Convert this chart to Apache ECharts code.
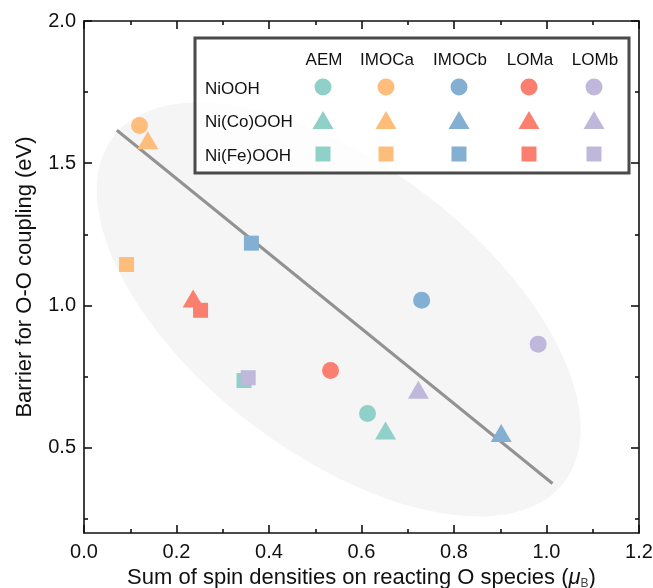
<!DOCTYPE html>
<html>
<head>
<meta charset="utf-8">
<title>Barrier vs spin density</title>
<script src="https://cdn.jsdelivr.net/npm/echarts@6/dist/echarts.min.js"></script>
<style>
  html, body { margin: 0; padding: 0; background: #fff; }
  #chart { width: 653px; height: 588px; }
</style>
</head>
<body>
<div id="chart"></div>
<script>
  // mechanisms (columns of the legend) and catalysts (rows)
  var mechanisms = ['AEM', 'IMOCa', 'IMOCb', 'LOMa', 'LOMb']
  var materials = ['NiOOH', 'Ni(Co)OOH', 'Ni(Fe)OOH']
  var colors = ['#8fd0c8', '#ffbd7b', '#82afd2', '#fa7f6f', '#bfb8db']
  var symbols = ['circle', 'triangle', 'rect']

  // spin density sum (x) and O-O coupling barrier (y), one value per mechanism
  var spinNiOOH = [0.613, 0.120, 0.730, 0.533, 0.982]
  var barrierNiOOH = [0.620, 1.633, 1.018, 0.771, 0.864]
  var spinNiCo = [0.652, 0.138, 0.902, 0.236, 0.723]
  var barrierNiCo = [0.560, 1.581, 0.552, 1.024, 0.704]
  var spinNiFe = [0.346, 0.092, 0.362, 0.252, 0.355]
  var barrierNiFe = [0.736, 1.144, 1.219, 0.983, 0.746]

  // linear fit ends
  var fitX = [0.071, 1.013]
  var fitY = [1.616, 0.374]

  var yMajor = [0.5, 1.0, 1.5, 2.0]
  var yMinor = [0.25, 0.75, 1.25, 1.75]

  var spins = [spinNiOOH, spinNiCo, spinNiFe]
  var barriers = [barrierNiOOH, barrierNiCo, barrierNiFe]

  var font = '"Liberation Sans", Arial, Helvetica, sans-serif'
  var symbolSizes = [17, [21, 18], 15]

  var chart = echarts.init(document.getElementById('chart'))

  var series = []
  // gray ellipse behind the points
  series.push({
    type: 'custom',
    z: 1,
    silent: true,
    data: [[0.551, 0.986]],
    renderItem: function (params, api) {
      var c = api.coord([api.value(0), api.value(1)])
      return {
        type: 'ellipse',
        x: c[0],
        y: c[1],
        rotation: -37.4 * Math.PI / 180,
        shape: { cx: 0, cy: 0, rx: 284, ry: 144 },
        style: { fill: '#f5f5f5' }
      }
    }
  })
  series.push({
    type: 'line',
    z: 2,
    silent: true,
    symbol: 'none',
    data: [[fitX[0], fitY[0]], [fitX[1], fitY[1]]],
    lineStyle: { color: '#929292', width: 3 }
  })
  materials.forEach(function (mat, r) {
    mechanisms.forEach(function (mech, c) {
      series.push({
        name: mat + ' ' + mech,
        type: 'scatter',
        z: 3,
        symbol: symbols[r],
        symbolSize: symbolSizes[r],
        itemStyle: { color: colors[c], opacity: 1 },
        data: [[spins[r][c], barriers[r][c]]]
      })
    })
  })

  // legend as a small table
  var colX = [323, 386, 459, 529, 594]
  var rowY = [87, 120, 154]
  var legend = [{
    type: 'rect', z: 100,
    shape: { x: 195, y: 38, width: 434, height: 135 },
    style: { fill: 'rgba(255,255,255,0.8)', stroke: '#4a4a4a', lineWidth: 3 }
  }]
  mechanisms.forEach(function (m, c) {
    legend.push({
      type: 'text', z: 101, x: colX[c] + 1, y: 60,
      style: { text: m, font: '17px ' + font, fill: '#111', align: 'center', verticalAlign: 'middle' }
    })
  })
  materials.forEach(function (mat, r) {
    legend.push({
      type: 'text', z: 101, x: 205, y: rowY[r] + 2,
      style: { text: mat, font: '17px ' + font, fill: '#111', align: 'left', verticalAlign: 'middle' }
    })
    colors.forEach(function (col, c) {
      if (r === 0) {
        legend.push({ type: 'circle', z: 101, shape: { cx: colX[c], cy: rowY[r], r: 8.5 }, style: { fill: col } })
      } else if (r === 1) {
        legend.push({ type: 'polygon', z: 101, shape: { points: [[colX[c], rowY[r] - 9], [colX[c] + 10.5, rowY[r] + 9], [colX[c] - 10.5, rowY[r] + 9]] }, style: { fill: col } })
      } else {
        legend.push({ type: 'rect', z: 101, shape: { x: colX[c] - 7.5, y: rowY[r] - 7.5, width: 15, height: 15 }, style: { fill: col } })
      }
    })
  })

  var lineStyle = { color: '#111', width: 1.6 }
  var tickMajor = { show: true, inside: true, length: 8, lineStyle: lineStyle }
  var tickMinor = { show: true, inside: true, length: 4, lineStyle: lineStyle }

  chart.setOption({
    animation: false,
    textStyle: { fontFamily: font },
    grid: { left: 84, right: 14, top: 21, bottom: 55, containLabel: false, outerBoundsMode: 'none' },
    xAxis: [
      {
        type: 'value', min: 0, max: 1.2, interval: 0.2, position: 'bottom',
        axisLine: { lineStyle: lineStyle },
        axisTick: tickMajor,
        minorTick: { show: true, splitNumber: 2, length: 4, lineStyle: lineStyle },
        splitLine: { show: false },
        axisLabel: { fontSize: 20, color: '#111', margin: 9, formatter: function (v) { return v.toFixed(1) } },
        name: 'Sum of spin densities on reacting O species ({mu|μ}{sub|B})',
        nameLocation: 'middle',
        nameGap: 30,
        nameTextStyle: {
          fontSize: 22, color: '#111',
          rich: {
            mu: { fontSize: 22, fontStyle: 'italic', color: '#111' },
            sub: { fontSize: 12, color: '#444', padding: [12, 0, 0, 0] }
          }
        }
      },
      {
        type: 'value', min: 0, max: 1.2, interval: 0.2, position: 'top',
        axisLine: { lineStyle: lineStyle },
        axisTick: tickMajor,
        minorTick: { show: true, splitNumber: 2, length: 4, lineStyle: lineStyle },
        splitLine: { show: false },
        axisLabel: { show: false }
      }
    ],
    yAxis: [
      {
        type: 'value', min: 0.2, max: 2.0, position: 'left',
        axisLine: { show: true, lineStyle: lineStyle },
        axisTick: Object.assign({ customValues: yMajor }, tickMajor),
        splitLine: { show: false },
        axisLabel: { customValues: yMajor, fontSize: 20, color: '#111', margin: 8, formatter: function (v) { return v.toFixed(1) } },
        name: 'Barrier for O-O coupling (eV)',
        nameLocation: 'middle',
        nameGap: 48,
        nameTextStyle: { fontSize: 22, color: '#111' }
      },
      {
        type: 'value', min: 0.2, max: 2.0, position: 'left',
        axisLine: { show: false },
        axisTick: Object.assign({ customValues: yMinor }, tickMinor),
        splitLine: { show: false },
        axisLabel: { show: false }
      },
      {
        type: 'value', min: 0.2, max: 2.0, position: 'right',
        axisLine: { show: true, lineStyle: lineStyle },
        axisTick: Object.assign({ customValues: yMajor }, tickMajor),
        splitLine: { show: false },
        axisLabel: { show: false }
      },
      {
        type: 'value', min: 0.2, max: 2.0, position: 'right',
        axisLine: { show: false },
        axisTick: Object.assign({ customValues: yMinor }, tickMinor),
        splitLine: { show: false },
        axisLabel: { show: false }
      }
    ],
    graphic: legend,
    series: series
  })
</script>
</body>
</html>
